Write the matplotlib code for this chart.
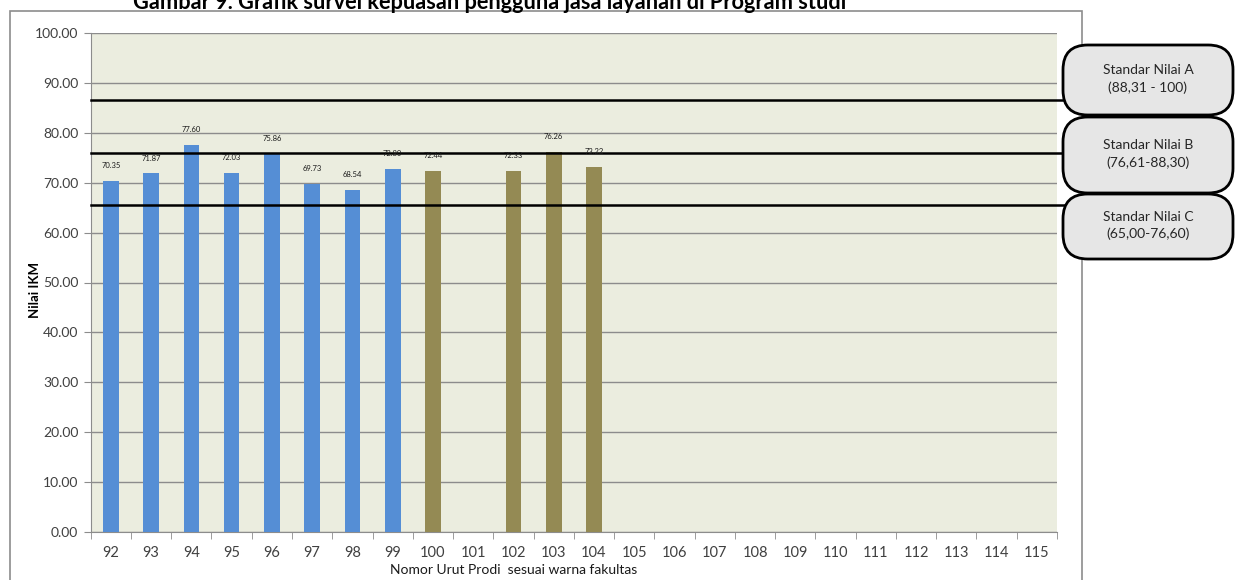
import matplotlib
matplotlib.use("Agg")
import matplotlib.pyplot as plt
from matplotlib.patches import FancyBboxPatch, Rectangle

plt.rcParams["font.family"] = ["Lato", "DejaVu Sans"]

# nomor urut prodi dan nilai IKM
prodi = [str(n) for n in range(92, 116)]
nilai = [70.35, 71.87, 77.60, 72.03, 75.86, 69.73, 68.54, 72.80, 72.44, None,
         72.33, 76.26, 73.22] + [None] * 11
fakultas = ["a"] * 8 + ["b"] * 5 + [None] * 11
warna_fakultas = {"a": "#558ed5", "b": "#948a54"}

# garis batas standar nilai
batas = [86.6, 76.0, 65.5]
label_standar = ["Standar Nilai A\n(88,31 - 100)",
                 "Standar Nilai B\n(76,61-88,30)",
                 "Standar Nilai C\n(65,00-76,60)"]

W, H = 1240, 580
fig = plt.figure(figsize=(W / 100, H / 100), dpi=100)

# bingkai luar grafik
fig.add_artist(Rectangle((10 / W, -0.1), (1082 - 10) / W, 1.1 - 10.7 / H,
                         transform=fig.transFigure, fill=False,
                         edgecolor="#8c8c8c", lw=1.2))

fig.text(133 / W, 1 - 9 / H,
         "Gambar 9. Grafik survei kepuasan pengguna jasa layanan di Program studi",
         fontsize=15.7, fontweight="bold", va="baseline", ha="left", color="black")

ax = fig.add_axes([90.7 / W, 48.3 / H, (1057 - 90.7) / W, (546.7 - 48.3) / H])
ax.set_facecolor("#ebeddf")

xs = list(range(len(prodi)))
for x, v, f in zip(xs, nilai, fakultas):
    if v is None:
        continue
    ax.bar(x, v, width=0.39, color=warna_fakultas[f], zorder=3)
    ax.annotate(f"{v:.2f}", (x, v), xytext=(0, 11), textcoords="offset points",
                ha="center", va="center", fontsize=5.5, color="#1a1a1a", zorder=5)

for b in batas:
    ax.plot([-0.5, 24.12], [b, b], color="black", lw=1.8, zorder=4, clip_on=False)

ax.set_xlim(-0.5, len(prodi) - 0.5)
ax.set_ylim(0, 100)
ax.set_yticks(range(0, 101, 10))
ax.set_yticklabels([f"{t:.2f}" for t in range(0, 101, 10)], fontsize=10, color="#404040")
ax.set_xticks(xs)
ax.set_xticklabels(prodi, fontsize=10.5, color="#404040")
ax.set_xticks([x - 0.5 for x in xs] + [len(prodi) - 0.5], minor=True)
ax.tick_params(axis="x", which="major", length=0, pad=10)
ax.tick_params(axis="x", which="minor", length=5, color="#8c8c8c", direction="out")
ax.tick_params(axis="y", length=5, color="#8c8c8c", pad=4)
ax.grid(axis="y", color="#8c8c8c", lw=1.0, zorder=1)
for s in ["top", "right"]:
    ax.spines[s].set_visible(False)
for s in ["left", "bottom"]:
    ax.spines[s].set_color("#8c8c8c")

fig.text(35 / W, 1 - 290 / H, "Nilai IKM", rotation=90, fontsize=9.5,
         fontweight="bold", ha="center", va="center")
fig.text(514 / W, 1 - 570 / H, "Nomor Urut Prodi  sesuai warna fakultas",
         fontsize=10, ha="center", va="center", color="#1a1a1a")

# kotak keterangan standar nilai
kotak = [(45, 115), (117, 193), (194, 259)]
for (y0, y1), teks in zip(kotak, label_standar):
    x0, x1 = 1063, 1233
    box = FancyBboxPatch((x0 / W, 1 - y1 / H), (x1 - x0) / W, (y1 - y0) / H,
                         boxstyle="round,pad=0,rounding_size=0.02",
                         mutation_aspect=W / H,
                         transform=fig.transFigure, facecolor="#e6e6e6",
                         edgecolor="black", lw=2.0)
    fig.add_artist(box)
    fig.text((x0 + x1) / 2 / W, 1 - ((y0 + y1) / 2 - 1) / H, teks,
             fontsize=10, ha="center", va="center", linespacing=1.5,
             color="#262626")

fig.savefig("out.png", dpi=100)
